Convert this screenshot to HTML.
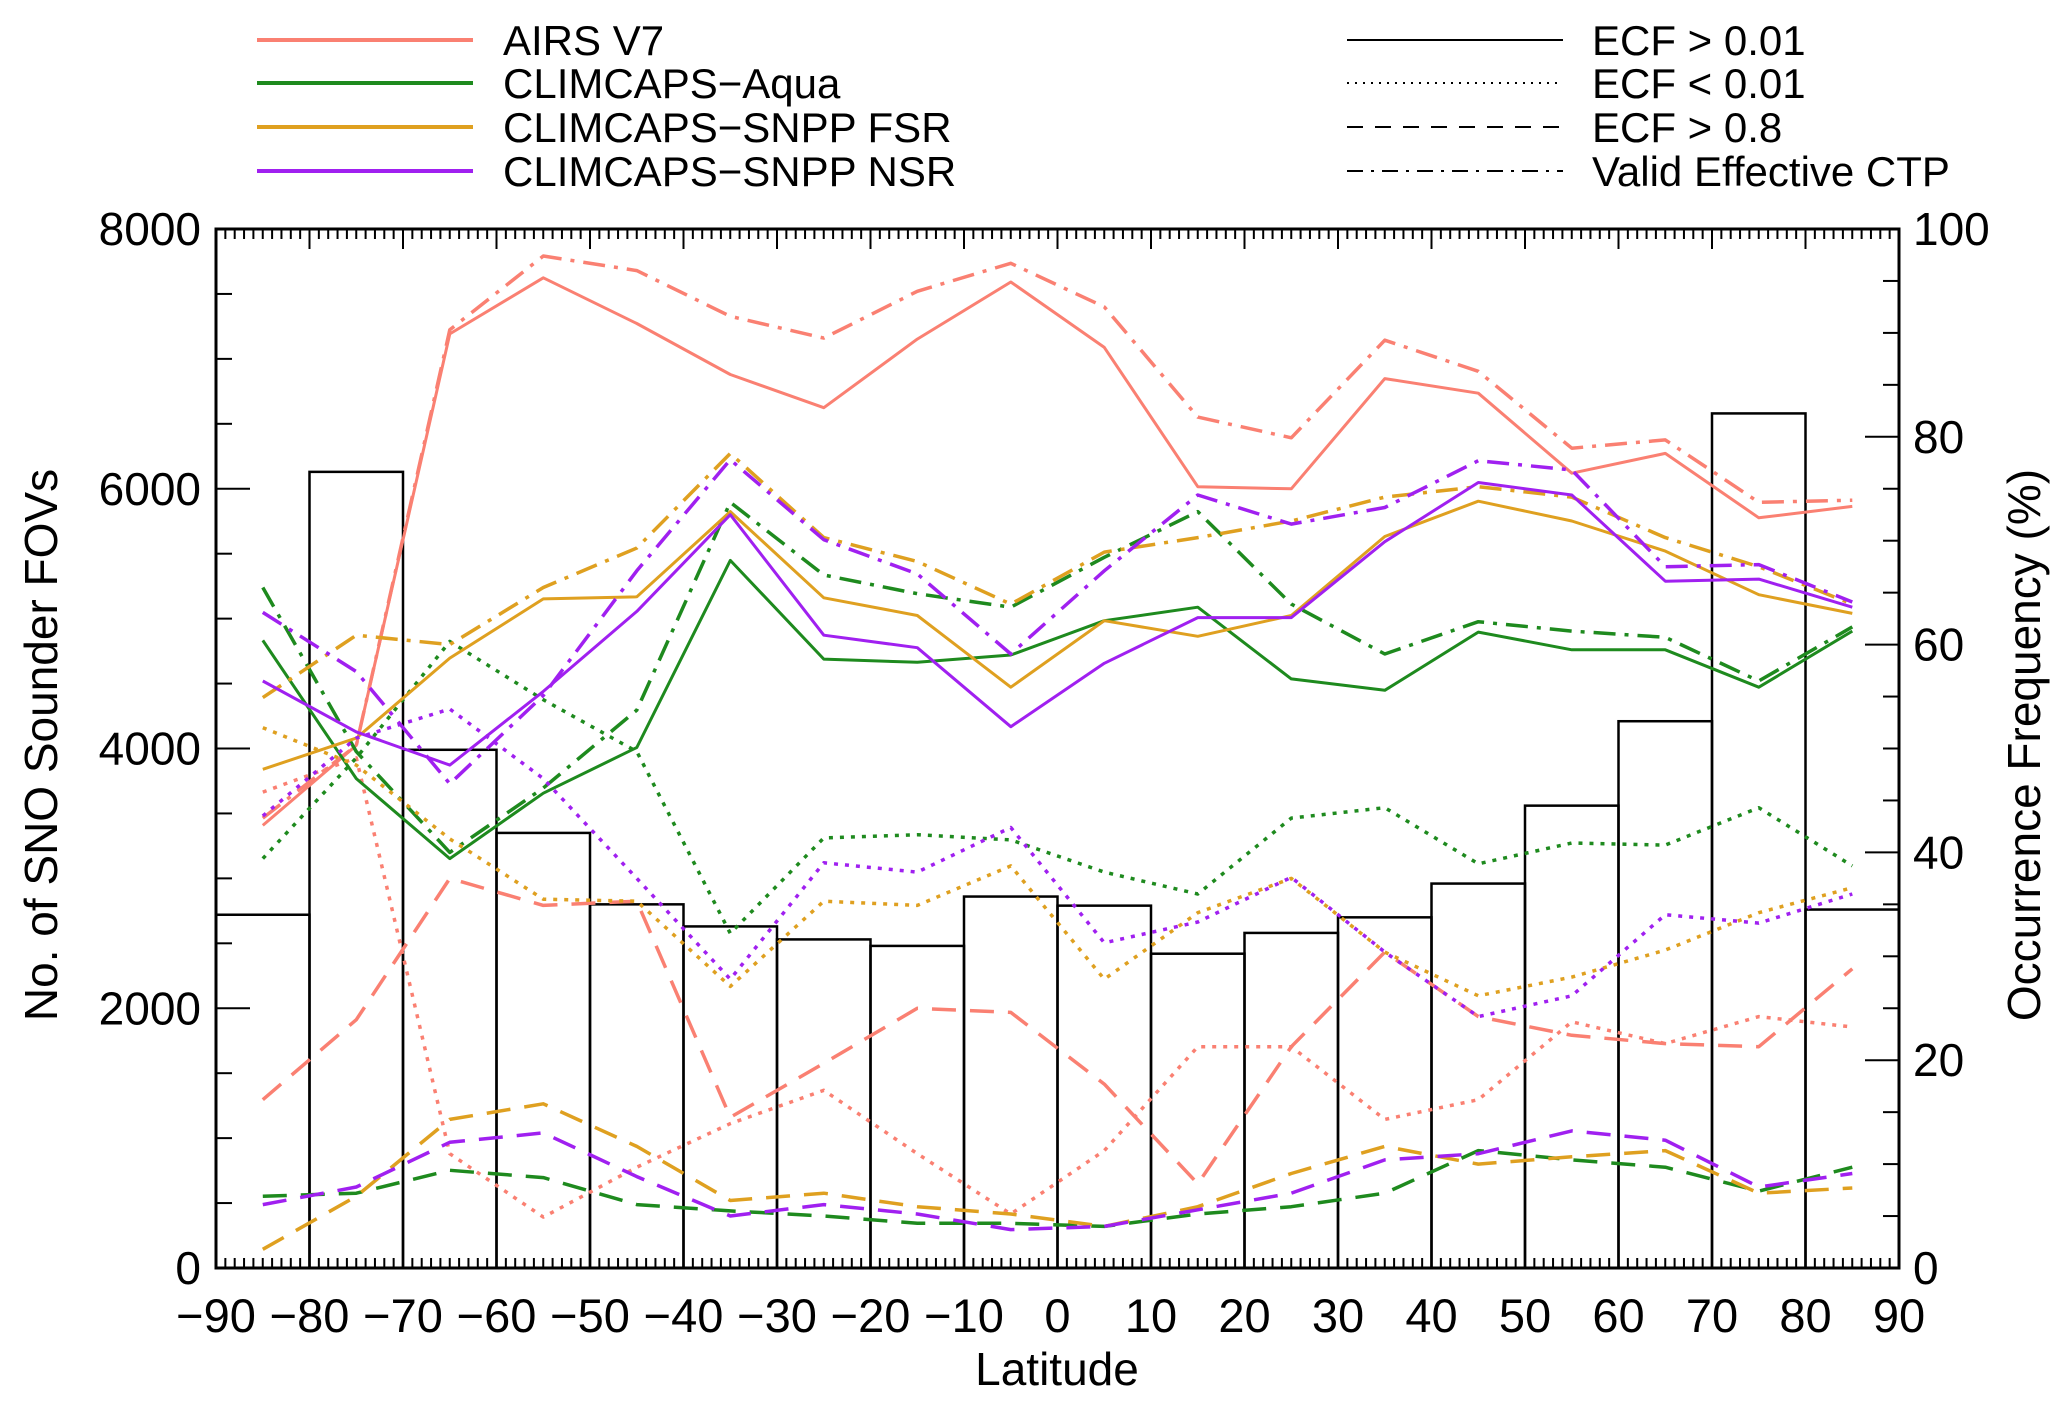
<!DOCTYPE html>
<html>
<head>
<meta charset="utf-8">
<style>
html,body{margin:0;padding:0;background:#fff;}
svg{display:block;font-family:"Liberation Sans",Arial,sans-serif;}
</style>
</head>
<body>
<svg id="chart" width="2067" height="1403" viewBox="0 0 2067 1403" xmlns="http://www.w3.org/2000/svg">
  <g id="legend">
    <g>
      <line x1="257" y1="40" x2="473" y2="40" stroke="#FA8072" stroke-width="4"/>
      <text x="503" y="55" font-size="42">AIRS V7</text>
    </g>
    <g>
      <line x1="257" y1="83" x2="473" y2="83" stroke="#1E8A1E" stroke-width="4"/>
      <text x="503" y="98" font-size="42">CLIMCAPS−Aqua</text>
    </g>
    <g>
      <line x1="257" y1="127" x2="473" y2="127" stroke="#DFA020" stroke-width="4"/>
      <text x="503" y="142" font-size="42">CLIMCAPS−SNPP FSR</text>
    </g>
    <g>
      <line x1="257" y1="171" x2="473" y2="171" stroke="#A020F0" stroke-width="4"/>
      <text x="503" y="186" font-size="42">CLIMCAPS−SNPP NSR</text>
    </g>
    <g>
      <line x1="1347" y1="40" x2="1563" y2="40" stroke="#000" stroke-width="2"/>
      <text x="1592" y="55" font-size="42">ECF &gt; 0.01</text>
    </g>
    <g>
      <line x1="1347" y1="83" x2="1563" y2="83" stroke="#000" stroke-width="2" stroke-dasharray="2 6"/>
      <text x="1592" y="98" font-size="42">ECF &lt; 0.01</text>
    </g>
    <g>
      <line x1="1347" y1="127" x2="1563" y2="127" stroke="#000" stroke-width="2" stroke-dasharray="16 12"/>
      <text x="1592" y="142" font-size="42">ECF &gt; 0.8</text>
    </g>
    <g>
      <line x1="1347" y1="171" x2="1563" y2="171" stroke="#000" stroke-width="2" stroke-dasharray="16 8 3 8"/>
      <text x="1592" y="186" font-size="42">Valid Effective CTP</text>
    </g>
  </g>
  <g id="bars"></g>
  <g id="series"></g>
  <g id="axes"></g>
  <text x="1057" y="1385" font-size="46" text-anchor="middle">Latitude</text>
  <text transform="translate(57,745) rotate(-90)" font-size="46" text-anchor="middle">No. of SNO Sounder FOVs</text>
  <text transform="translate(2040,745) rotate(-90)" font-size="46" text-anchor="middle">Occurrence Frequency (%)</text>
</svg>
<script>
// ---- data ----
const latCenters = [-85,-75,-65,-55,-45,-35,-25,-15,-5,5,15,25,35,45,55,65,75,85];
const binEdgesLow = [-90,-80,-70,-60,-50,-40,-30,-20,-10,0,10,20,30,40,50,60,70,80];
const binCounts = [2720,6130,3990,3350,2800,2630,2530,2480,2860,2790,2420,2580,2700,2960,3560,4210,6580,2760];
const xTickLabels = [-90,-80,-70,-60,-50,-40,-30,-20,-10,0,10,20,30,40,50,60,70,80,90];
const leftTickLabels = [0,2000,4000,6000,8000];
const rightTickLabels = [0,20,40,60,80,100];

const airsSolid   = [42.6,50.3,89.9,95.3,90.9,86.0,82.8,89.4,94.9,88.6,75.2,75.0,85.6,84.2,76.5,78.4,72.2,73.3];
const airsDotted  = [45.8,49.1,11.0,4.9,9.7,13.9,17.1,11.0,5.2,11.3,21.3,21.3,14.3,16.2,23.7,21.6,24.2,23.2];
const airsDashed  = [16.2,23.9,37.5,34.9,35.3,14.5,19.7,25.0,24.6,17.7,8.1,21.3,30.4,24.2,22.4,21.6,21.3,28.8];
const airsCtp     = [43.3,50.3,90.3,97.4,96.0,91.6,89.5,94.0,96.7,92.5,81.9,79.9,89.3,86.3,78.9,79.7,73.7,73.9];

const aquaSolid   = [60.4,47.1,39.4,45.7,50.1,68.1,58.6,58.3,59.0,62.3,63.6,56.7,55.6,61.2,59.5,59.5,55.9,61.3];
const aquaDotted  = [39.4,49.1,60.3,54.7,49.7,32.2,41.4,41.7,41.2,38.1,36.0,43.3,44.3,38.9,40.9,40.7,44.3,38.7];
const aquaDashed  = [6.9,7.2,9.4,8.7,6.1,5.5,5.0,4.3,4.3,4.0,5.2,5.9,7.2,11.3,10.4,9.7,7.4,9.7];
const aquaCtp     = [65.5,49.7,40.0,46.2,53.7,73.7,66.7,64.9,63.6,68.4,72.8,63.9,59.1,62.2,61.3,60.7,56.5,61.7];

const fsrSolid    = [48.0,51.0,58.7,64.4,64.6,72.8,64.5,62.8,55.9,62.3,60.8,62.8,70.4,73.8,71.9,69.0,64.8,63.0];
const fsrDotted   = [52.0,48.4,41.3,35.5,35.3,27.1,35.3,34.9,38.7,27.8,34.2,37.5,30.4,26.2,28.0,30.6,34.2,36.6];
const fsrDashed   = [1.8,6.9,14.3,15.8,11.7,6.5,7.2,5.9,5.2,4.0,5.9,9.1,11.7,10.0,10.7,11.3,7.2,7.7];
const fsrCtp      = [54.9,60.9,60.0,65.5,69.3,78.4,70.3,68.0,63.9,68.9,70.3,71.9,74.2,75.2,74.2,70.3,67.5,63.9];

const nsrSolid    = [56.5,51.6,48.4,55.5,63.2,72.5,60.9,59.7,52.1,58.2,62.6,62.6,69.9,75.6,74.4,66.1,66.3,63.6];
const nsrDotted   = [43.5,51.0,53.8,47.1,37.5,27.8,39.0,38.1,42.4,31.3,33.3,37.6,30.4,24.2,26.2,34.0,33.2,36.0];
const nsrDashed   = [6.1,7.8,12.1,13.0,8.8,5.0,6.1,5.2,3.7,4.0,5.6,7.2,10.4,11.0,13.2,12.3,7.8,9.1];
const nsrCtp      = [63.1,57.4,46.6,55.1,67.1,77.8,70.1,66.8,59.1,67.1,74.4,71.6,73.2,77.7,76.8,67.5,67.7,64.1];

// ---- scales ----
const X0=216, X1=1899, Y0=1268, Y1=229;
function xs(lat){ return X0 + (lat+90)/180*(X1-X0); }
function yl(v){ return Y0 - v/8000*(Y0-Y1); }
function yr(p){ return Y0 - p/100*(Y0-Y1); }
const NS="http://www.w3.org/2000/svg";
function mk(tag, attrs){ const e=document.createElementNS(NS,tag); for(const k in attrs) e.setAttribute(k,attrs[k]); return e; }

// ---- bars ----
const bars=document.getElementById('bars');
binCounts.forEach((c,i)=>{
  const xa=xs(binEdgesLow[i]), xb=xs(binEdgesLow[i]+10);
  const r=mk('rect',{x:xa,y:yl(c),width:xb-xa,height:Y0-yl(c),fill:'none',stroke:'#000','stroke-width':2.5});
  
  
  bars.appendChild(r);
});

// ---- series ----
const series=document.getElementById('series');
const styles={solid:null,dotted:'4 7',dashed:'24 14',ctp:'22 9 4 9'};
const groups=[
  ['airs','#FA8072',airsSolid,airsDotted,airsDashed,airsCtp],
  ['aqua','#1E8A1E',aquaSolid,aquaDotted,aquaDashed,aquaCtp],
  ['fsr','#DFA020',fsrSolid,fsrDotted,fsrDashed,fsrCtp],
  ['nsr','#A020F0',nsrSolid,nsrDotted,nsrDashed,nsrCtp]
];
const kinds=['solid','dotted','dashed','ctp'];
groups.forEach(g=>{
  kinds.forEach((k,ki)=>{
    const vals=g[2+ki];
    const pts=vals.map((v,i)=>xs(latCenters[i]).toFixed(1)+','+yr(v).toFixed(1)).join(' ');
    const pl=mk('polyline',{points:pts,fill:'none',stroke:g[1],'stroke-width':k==='solid'?3:3.5,'stroke-linejoin':'round'});
    if(styles[k]) pl.setAttribute('stroke-dasharray',styles[k]);
    
    
    series.appendChild(pl);
  });
});

// ---- axes ----
const axes=document.getElementById('axes');
axes.appendChild(mk('rect',{x:X0,y:Y1,width:X1-X0,height:Y0-Y1,fill:'none',stroke:'#000','stroke-width':3}));
for(let d=-90; d<=90; d++){
  const x=xs(d), major=(d%10===0), len=major?20:10;
  axes.appendChild(mk('line',{x1:x,y1:Y0,x2:x,y2:Y0-len,stroke:'#000','stroke-width':2}));
  axes.appendChild(mk('line',{x1:x,y1:Y1,x2:x,y2:Y1+len,stroke:'#000','stroke-width':2}));
}
xTickLabels.forEach(v=>{
  const t=mk('text',{x:xs(v),y:1332,'font-size':47,'text-anchor':'middle'});
  t.textContent=(v<0?'\u2212':'')+Math.abs(v);
  
  
  axes.appendChild(t);
});
for(let v=0; v<=8000; v+=500){
  const y=yl(v), major=(v%2000===0), len=major?34:16;
  axes.appendChild(mk('line',{x1:X0,y1:y,x2:X0+len,y2:y,stroke:'#000','stroke-width':2}));
}
leftTickLabels.forEach(v=>{
  const t=mk('text',{x:201,y:yl(v)+16,'font-size':46,'text-anchor':'end'});
  t.textContent=String(v);
  
  
  axes.appendChild(t);
});
for(let p=0; p<=100; p+=5){
  const y=yr(p), major=(p%20===0), len=major?34:16;
  axes.appendChild(mk('line',{x1:X1,y1:y,x2:X1-len,y2:y,stroke:'#000','stroke-width':2}));
}
rightTickLabels.forEach(v=>{
  const t=mk('text',{x:1913,y:yr(v)+16,'font-size':46,'text-anchor':'start'});
  t.textContent=String(v);
  
  
  axes.appendChild(t);
});
</script>
</body>
</html>
